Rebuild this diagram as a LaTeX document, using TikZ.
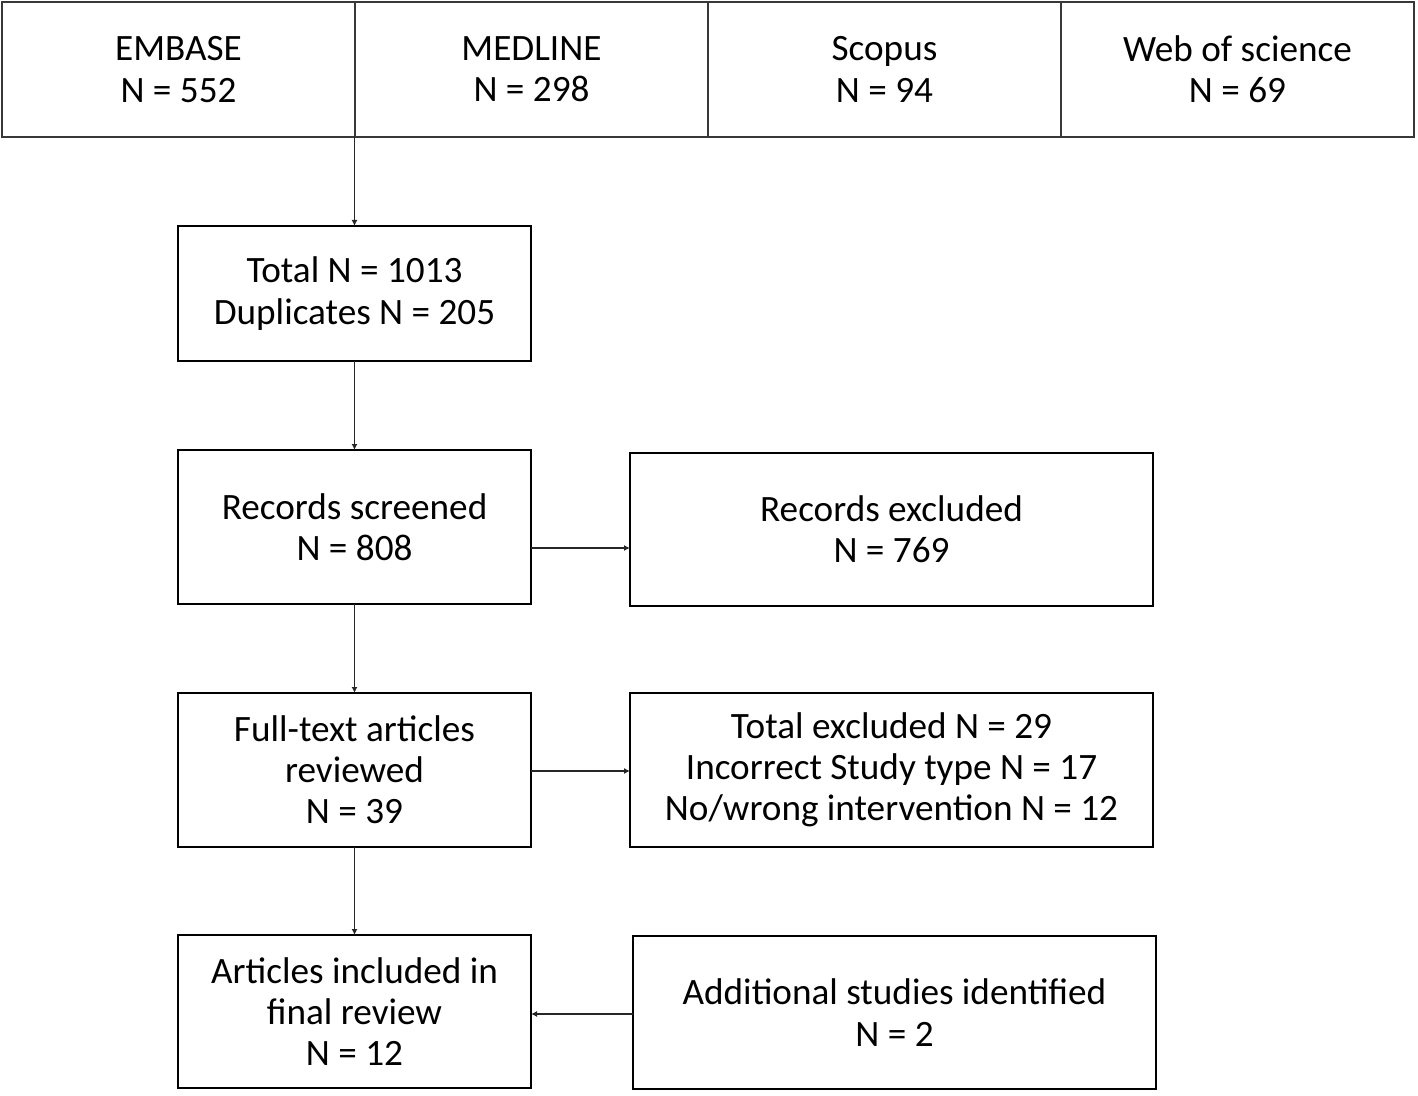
\documentclass[tikz,border=0pt]{standalone}
\usepackage{fontspec}
\setmainfont{Carlito}
\usetikzlibrary{arrows.meta,calc}
\begin{document}
\begin{tikzpicture}[x=0.5pt,y=-0.5pt,
  box/.style={draw=black,line width=1pt,inner sep=0pt,outer sep=0pt,align=center,
    font=\fontsize{18.6}{20.6}\selectfont},
  topbox/.style={box,draw=black!78,minimum width=176.5pt,minimum height=67.5pt},
  arr/.style={draw=black!85,line width=0.8pt,-{Latex[length=3pt,width=3pt]}}]
\useasboundingbox (0,0) rectangle (1418,1096);
\node[topbox] (e) at (178.5,69.5) {EMBASE\\N = 552};
\node[topbox] (m) at (531.5,69.5) {MEDLINE\\N = 298};
\node[topbox] (s) at (884.5,69.5) {Scopus\\N = 94};
\node[topbox] (w) at (1237.5,69.5) {Web of science\\N = 69};
\node[box,minimum width=176.5pt,minimum height=67.5pt] (tot) at (354.5,293.5) {Total N = 1013\\Duplicates N = 205};
\node[box,minimum width=176.5pt,minimum height=77pt] (rs) at (354.5,527) {Records screened\\N = 808};
\node[box,minimum width=261.5pt,minimum height=76.5pt] (re) at (891.5,529.5) {Records excluded\\N = 769};
\node[box,minimum width=176.5pt,minimum height=77pt] (ft) at (354.5,770) {Full-text articles\\reviewed\\N = 39};
\node[box,minimum width=261.5pt,minimum height=77pt] (te) at (891.5,770) {Total excluded N = 29\\Incorrect Study type N = 17\\No/wrong intervention N = 12};
\node[box,minimum width=176.5pt,minimum height=76.5pt] (ai) at (354.5,1011.5) {Articles included in\\final review\\N = 12};
\node[box,minimum width=261.5pt,minimum height=76.5pt] (ad) at (894.5,1012.5) {Additional studies identified\\N = 2};
\draw[arr] (tot.north |- e.south) -- (tot.north);
\draw[arr] (tot.south) -- (rs.north);
\coordinate (rsa) at ($(rs.east)+(0,21)$);
\draw[arr] (rsa) -- (re.west |- rsa);
\draw[arr] (rs.south) -- (ft.north);
\coordinate (fta) at ($(ft.east)+(0,1)$);
\draw[arr] (fta) -- (te.west |- fta);
\draw[arr] (ft.south) -- (ai.north);
\coordinate (ada) at ($(ad.west)+(0,1.5)$);
\draw[arr] (ada) -- (ai.east |- ada);
\end{tikzpicture}
\end{document}
